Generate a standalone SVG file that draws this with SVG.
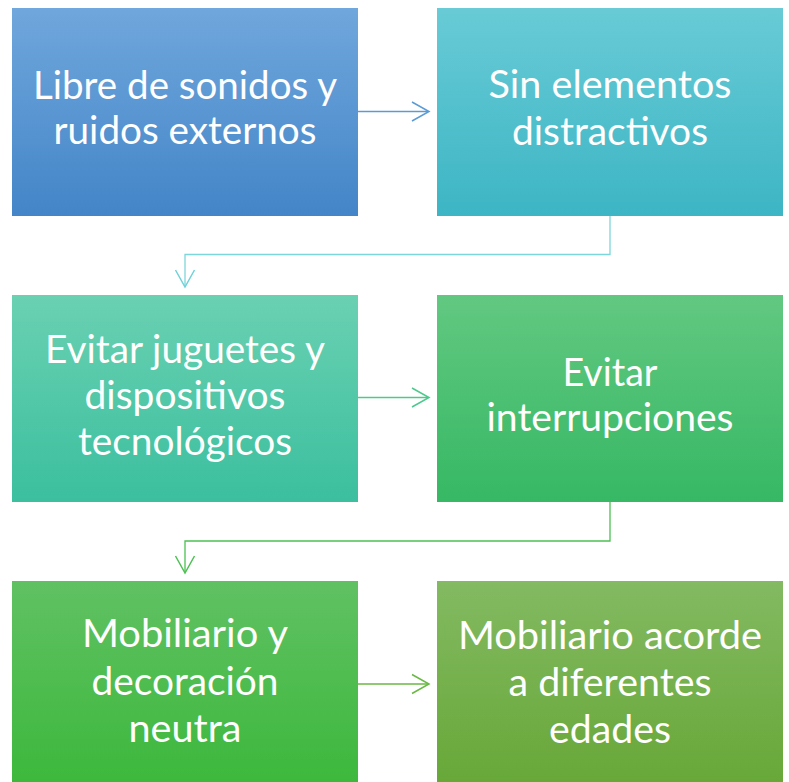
<svg xmlns="http://www.w3.org/2000/svg" width="789" height="782" viewBox="0 0 789 782">
<style>
.t{font-family:Lato,"Open Sans","Liberation Sans",sans-serif;font-size:38px;fill:#fff;text-anchor:middle}
.c{fill:none;stroke-width:1.3}
.h{fill:none;stroke-width:1.5}
</style>
<defs>
<linearGradient id="g1" x1="0" y1="0" x2="0" y2="1"><stop offset="0" stop-color="#70A7DC"/><stop offset="1" stop-color="#4385C8"/></linearGradient>
<linearGradient id="g2" x1="0" y1="0" x2="0" y2="1"><stop offset="0" stop-color="#68CBD6"/><stop offset="1" stop-color="#3DB5C4"/></linearGradient>
<linearGradient id="g3" x1="0" y1="0" x2="0" y2="1"><stop offset="0" stop-color="#6AD1B2"/><stop offset="1" stop-color="#3BBF9E"/></linearGradient>
<linearGradient id="g4" x1="0" y1="0" x2="0" y2="1"><stop offset="0" stop-color="#62C881"/><stop offset="1" stop-color="#36B864"/></linearGradient>
<linearGradient id="g5" x1="0" y1="0" x2="0" y2="1"><stop offset="0" stop-color="#60C163"/><stop offset="1" stop-color="#3CB83B"/></linearGradient>
<linearGradient id="g6" x1="0" y1="0" x2="0" y2="1"><stop offset="0" stop-color="#83BA62"/><stop offset="1" stop-color="#67A737"/></linearGradient>
</defs>
<g id="connectors">
<path class="c" stroke="#5B9BD5" d="M358 111.5H428"/>
<path class="h" stroke="#5B9BD5" d="M412 102L429 111.5L412 121"/>
<path class="c" stroke="#7DD6DA" d="M610 216V254.5H185V286"/>
<path class="h" stroke="#6ED2D8" d="M175.5 270L185 287L194.5 270"/>
<path class="c" stroke="#4DC98D" d="M358 397.5H428"/>
<path class="h" stroke="#4DC98D" d="M412 388L429 397.5L412 407"/>
<path class="c" stroke="#4CC052" d="M610 502V541H185V572"/>
<path class="h" stroke="#4CC052" d="M175.5 556L185 573L194.5 556"/>
<path class="c" stroke="#6AB844" d="M358 684H428"/>
<path class="h" stroke="#6AB844" d="M412 674.5L429 684L412 693.5"/>
</g>
<g id="n1"><rect x="12" y="8" width="346" height="208" fill="url(#g1)"/>
<text class="t"><tspan x="185" y="99" textLength="304" lengthAdjust="spacingAndGlyphs">Libre de sonidos y</tspan><tspan x="185" y="144" textLength="263" lengthAdjust="spacingAndGlyphs">ruidos externos</tspan></text></g>
<g id="n2"><rect x="437" y="8" width="346" height="208" fill="url(#g2)"/>
<text class="t"><tspan x="610" y="98" textLength="243" lengthAdjust="spacingAndGlyphs">Sin elementos</tspan><tspan x="610" y="145" textLength="196" lengthAdjust="spacingAndGlyphs">distractivos</tspan></text></g>
<g id="n3"><rect x="12" y="295" width="346" height="207" fill="url(#g3)"/>
<text class="t"><tspan x="185" y="363" textLength="280" lengthAdjust="spacingAndGlyphs">Evitar juguetes y</tspan><tspan x="185" y="409" textLength="201" lengthAdjust="spacingAndGlyphs">dispositivos</tspan><tspan x="185" y="455" textLength="214" lengthAdjust="spacingAndGlyphs">tecnológicos</tspan></text></g>
<g id="n4"><rect x="437" y="295" width="346" height="207" fill="url(#g4)"/>
<text class="t"><tspan x="610" y="386" textLength="95" lengthAdjust="spacingAndGlyphs">Evitar</tspan><tspan x="610" y="431" textLength="247" lengthAdjust="spacingAndGlyphs">interrupciones</tspan></text></g>
<g id="n5"><rect x="12" y="581" width="346" height="207" fill="url(#g5)"/>
<text class="t"><tspan x="185" y="647" textLength="206" lengthAdjust="spacingAndGlyphs">Mobiliario y</tspan><tspan x="185" y="695" textLength="187" lengthAdjust="spacingAndGlyphs">decoración</tspan><tspan x="185" y="742" textLength="113" lengthAdjust="spacingAndGlyphs">neutra</tspan></text></g>
<g id="n6"><rect x="437" y="581" width="346" height="207" fill="url(#g6)"/>
<text class="t"><tspan x="610" y="649" textLength="304" lengthAdjust="spacingAndGlyphs">Mobiliario acorde</tspan><tspan x="610" y="696" textLength="203" lengthAdjust="spacingAndGlyphs">a diferentes</tspan><tspan x="610" y="743" textLength="122" lengthAdjust="spacingAndGlyphs">edades</tspan></text></g>
</svg>
